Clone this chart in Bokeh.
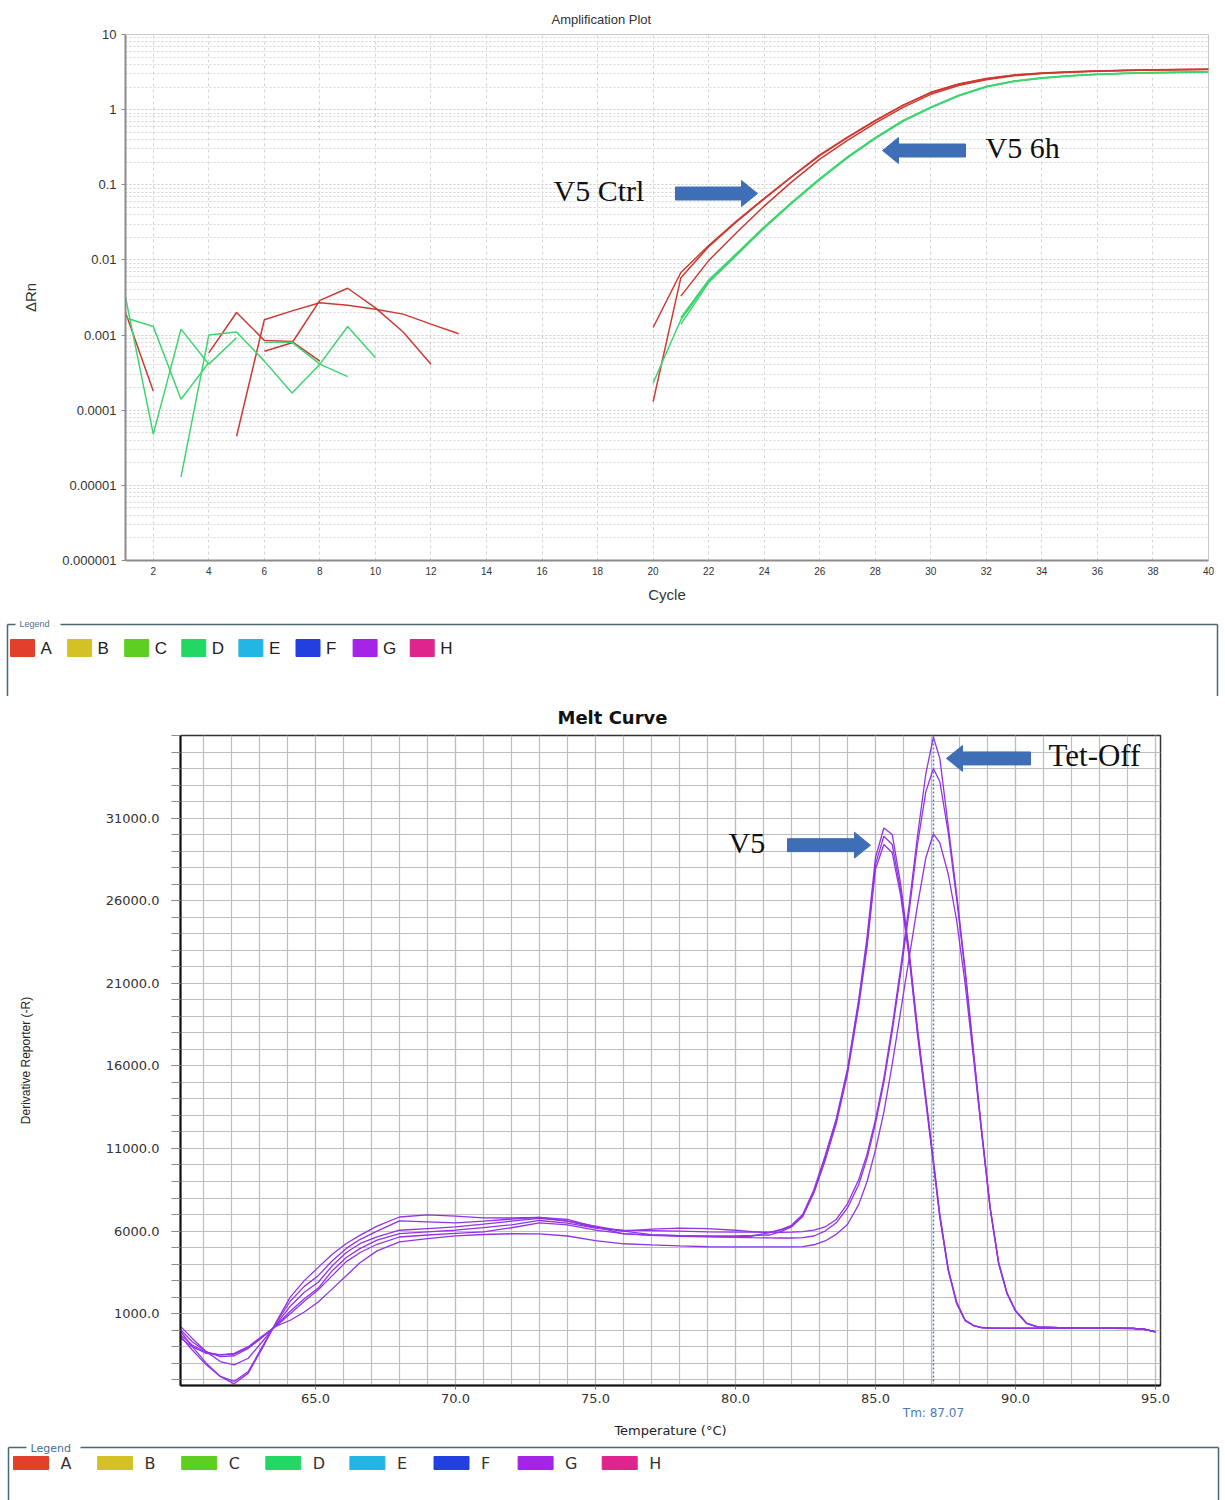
import math
from bokeh.plotting import figure
from bokeh.models import (FixedTicker, CustomJSTickFormatter, PrintfTickFormatter,
                          Span, Range1d, LinearAxis)
from bokeh.core.properties import value
from bokeh.embed import file_html
from bokeh.resources import INLINE

N = None

# ---------------- Amplification plot data (ΔRn per cycle; None = not drawn on log axis) ----
cycles = list(range(1, 41))
red_a = [0.0020, 0.00018, N, 0.00058, 0.0020, 0.00085, 0.00082, 0.00045, N, N,
         N, N, N, N, N, N, N, N, N, 0.00126,
         0.0068, 0.0155, 0.033, 0.066, 0.13, 0.25, 0.43, 0.72, 1.15, 1.70,
         2.20, 2.60, 2.90, 3.08, 3.20, 3.28, 3.34, 3.39, 3.42, 3.45]
red_b = [N, N, N, N, 0.000045, 0.0016, 0.0021, 0.0027, 0.0025, 0.0022,
         0.0019, 0.0014, 0.00104, N, N, N, N, N, N, 0.00013,
         0.0058, 0.0150, 0.032, 0.065, 0.128, 0.245, 0.425, 0.71, 1.14, 1.68,
         2.18, 2.58, 2.88, 3.06, 3.18, 3.27, 3.33, 3.38, 3.41, 3.44]
red_c = [N, N, N, N, N, 0.00061, 0.00079, 0.0029, 0.0042, 0.0023,
         0.0011, 0.00041, N, N, N, N, N, N, N, N,
         0.0033, 0.0098, 0.023, 0.052, 0.11, 0.22, 0.39, 0.66, 1.07, 1.60,
         2.10, 2.50, 2.82, 3.02, 3.15, 3.25, 3.31, 3.36, 3.40, 3.43]
green_a = [0.0032, 0.000048, 0.0012, 0.00041, 0.00092, N, N, N, N, N,
           N, N, N, N, N, N, N, N, N, 0.00023,
           0.0016, 0.0052, 0.0119, 0.027, 0.058, 0.119, 0.232, 0.42, 0.71, 1.07,
           1.54, 2.03, 2.39, 2.64, 2.82, 2.95, 3.04, 3.10, 3.15, 3.19]
green_b = [0.0017, 0.0013, 0.00014, 0.00043, N, 0.0008, 0.0008, 0.00041, 0.00028, N,
           N, N, N, N, N, N, N, N, N, N,
           0.0014, 0.0050, 0.0115, 0.0265, 0.057, 0.117, 0.228, 0.41, 0.70, 1.06,
           1.52, 2.00, 2.37, 2.62, 2.80, 2.93, 3.02, 3.08, 3.13, 3.17]
green_c = [N, N, 0.000013, 0.0010, 0.0011, 0.00045, 0.00017, 0.00041, 0.0013, 0.0005,
           N, N, N, N, N, N, N, N, N, N,
           0.0017, 0.0054, 0.0122, 0.0275, 0.059, 0.121, 0.235, 0.425, 0.72, 1.08,
           1.55, 2.04, 2.40, 2.65, 2.83, 2.96, 3.05, 3.11, 3.16, 3.20]
red_wells = [red_a, red_b, red_c]
green_wells = [green_a, green_b, green_c]

cycle_ticks = list(range(2, 41, 2))
drn_decades = [1e-6, 1e-5, 1e-4, 1e-3, 1e-2, 1e-1, 1, 10]

# ---------------- Melt curve data (derivative reporter -R) ----------------
temp_c = [60.2, 60.6, 61.1, 61.6, 62.1, 62.6, 63.1, 63.6, 64.1, 64.6, 65.1, 65.6, 66.1, 66.6, 67.2,
          68, 69, 70, 71, 72, 73, 74, 75, 76, 77, 78, 79, 80,
          80.6, 81.2, 81.6, 82.0, 82.4, 82.8, 83.2, 83.6, 84.0, 84.4, 84.7, 85.0, 85.3, 85.6, 85.9,
          86.2, 86.5, 86.8, 87.07, 87.3, 87.6, 87.9, 88.2, 88.5, 88.8, 89.1, 89.4, 89.7, 90.0,
          90.4, 90.8, 91.5, 92.5, 93.5, 94.2, 94.6, 95.0]
v5_a = [-100, -1000, -2000, -2800, -3250, -2600, -1100, 500, 2000, 3000, 3800, 4600, 5250, 5750, 6300,
        6850, 6980, 6900, 6800, 6790, 6830, 6600, 6200, 5990, 6120, 6180, 6150, 6050,
        5960, 5900, 6080, 6350, 7000, 8500, 10550, 12800, 15800, 20000, 23800, 28600, 30400, 30000, 27000,
        23000, 18300, 14100, 10300, 7000, 3700, 1700, 620, 290, 160, 130, 120, 120, 120,
        120, 120, 120, 120, 115, 110, 60, -100]
v5_b = [-400, -1200, -2100, -2800, -3100, -2500, -1000, 450, 1750, 2650, 3300, 4200, 4950, 5500, 6000,
        6620, 6560, 6500, 6600, 6720, 6830, 6700, 6250, 5830, 5760, 5720, 5700, 5710,
        5730, 5760, 5950, 6250, 6880, 8350, 10400, 12700, 15700, 19850, 23500, 28200, 29900, 29400, 26600,
        22800, 18100, 13950, 10150, 6900, 3650, 1650, 600, 280, 150, 125, 120, 115, 115,
        115, 115, 115, 115, 110, 105, 55, -100]
v5_c = [200, -500, -1300, -1900, -2100, -1700, -700, 350, 1450, 2300, 2900, 3900, 4700, 5250, 5650,
        6050, 6150, 6250, 6420, 6600, 6770, 6600, 6300, 5990, 5780, 5720, 5680, 5650,
        5700, 5900, 6050, 6300, 6900, 8300, 10250, 12500, 15500, 19600, 23200, 27900, 29400, 28900, 26300,
        22600, 17900, 13800, 10050, 6800, 3600, 1600, 580, 270, 145, 120, 115, 110, 110,
        110, 110, 110, 110, 105, 100, 50, -90]
tet_a = [0, -700, -1300, -1600, -1550, -1100, -450, 300, 1150, 1900, 2550, 3600, 4400, 4950, 5450,
         5840, 5950, 6050, 6210, 6380, 6640, 6480, 6180, 6060, 6030, 5990, 5950, 5940,
         5940, 5930, 5920, 5930, 5960, 6050, 6250, 6700, 7650, 9100, 10650, 12750, 15250, 18400, 21950,
         25700, 29900, 33700, 35900, 34600, 30500, 26400, 21900, 16900, 12000, 7400, 4100, 2250, 1200,
         420, 200, 160, 130, 120, 110, 60, -110]
tet_b = [-300, -900, -1350, -1500, -1450, -1050, -400, 250, 1000, 1750, 2450, 3300, 4150, 4700, 5200,
         5640, 5760, 5860, 5950, 6200, 6500, 6380, 6050, 5850, 5740, 5680, 5650, 5620,
         5600, 5590, 5580, 5580, 5600, 5700, 6000, 6500, 7400, 8800, 10400, 12500, 15000, 18100, 21600,
         25300, 29400, 32600, 34000, 33200, 30100, 26100, 21700, 16800, 11900, 7350, 4050, 2230, 1180,
         410, 195, 155, 125, 115, 105, 55, -100]
tet_c = [-500, -1000, -1400, -1500, -1400, -1000, -350, 250, 600, 1100, 1700, 2500, 3300, 4100, 4800,
         5340, 5540, 5710, 5790, 5840, 5830, 5700, 5420, 5230, 5160, 5100, 5050, 5040,
         5040, 5040, 5040, 5040, 5060, 5170, 5400, 5800, 6400, 7600, 9000, 10900, 13200, 16100, 19300,
         22500, 25700, 28600, 30050, 29500, 27600, 24800, 21000, 16500, 11800, 7300, 4000, 2200, 1150,
         400, 190, 150, 120, 110, 100, 50, -100]
melt_wells = [v5_a, v5_b, v5_c, tet_a, tet_b, tet_c]
tm_value = 87.07
temp_major = [65, 70, 75, 80, 85, 90, 95]
temp_minor = list(range(61, 96))
deriv_major = [1000, 6000, 11000, 16000, 21000, 26000, 31000]
deriv_minor = list(range(-3000, 36001, 1000))

legend_labels = ["A", "B", "C", "D", "E", "F", "G", "H"]
legend_colors = ["#e2402a", "#d4c224", "#5ccf22", "#22d764", "#22b6e2", "#2240df", "#a424e6", "#e0248e"]

RED = "#cc3a32"
GREEN = "#3ed46f"
PURPLE = "#9233e4"
ARROW = "#3e6fb6"

W = 1225

# ================= Amplification plot =================
A_H = 610
A_L, A_R, A_T, A_B = 125, 17, 34, 50
A_X = (1, 40)
A_Y = (1e-6, 10)
p1 = figure(width=W, height=A_H, x_range=Range1d(*A_X), y_range=Range1d(*A_Y),
            y_axis_type="log", output_backend="svg", toolbar_location=None,
            min_border_left=A_L, min_border_right=A_R, min_border_top=A_T, min_border_bottom=A_B)
p1.title.text = "Amplification Plot"
p1.title.align = "left"
p1.title.offset = 426
p1.title.standoff = 15
p1.title.text_font = "Liberation Sans"
p1.title.text_font_size = "13px"
p1.title.text_font_style = "normal"
p1.title.text_color = "#333333"
p1.outline_line_color = "#c8c8c8"

p1.xaxis.ticker = FixedTicker(ticks=cycle_ticks)
p1.yaxis.ticker = FixedTicker(ticks=drn_decades,
                              minor_ticks=[m * d for d in drn_decades[:-1] for m in range(2, 10)])
p1.yaxis.formatter = CustomJSTickFormatter(
    code="const e = Math.round(Math.log10(tick)); return e >= 0 ? Math.round(tick).toString() : tick.toFixed(-e);")
for ax in (p1.xaxis, p1.yaxis):
    ax.axis_line_color = "#8c8c8c"
    ax.axis_line_width = 2
    ax.minor_tick_line_color = None
    ax.minor_tick_out = 0
    ax.major_label_text_color = "#333333"
    ax.axis_label_text_font_style = "normal"
    ax.axis_label_text_color = "#333333"
    ax.axis_label_text_font_size = "15px"
    ax.axis_label_text_font = "Liberation Sans"
p1.xaxis.major_tick_line_color = None
p1.xaxis.major_tick_out = 0
p1.xaxis.major_tick_in = 0
p1.xaxis.major_label_text_font = "Liberation Sans"
p1.xaxis.major_label_text_font_size = "10px"
p1.xaxis.major_label_standoff = 6
p1.xaxis.axis_label = "Cycle"
p1.xaxis.axis_label_standoff = 8
p1.yaxis.major_tick_out = 4
p1.yaxis.major_tick_in = 0
p1.yaxis.major_tick_line_color = "#8c8c8c"
p1.yaxis.major_label_text_font = "Liberation Sans"
p1.yaxis.major_label_text_font_size = "13px"
p1.yaxis.major_label_standoff = 5
p1.yaxis.axis_label = "ΔRn"
p1.yaxis.axis_label_standoff = 20

p1.xgrid.grid_line_color = "#d4d4d4"
p1.xgrid.grid_line_dash = "3 3"
p1.ygrid.grid_line_color = "#cccccc"
p1.ygrid.grid_line_dash = "2 2"
p1.ygrid.minor_grid_line_color = "#d6d6d6"
p1.ygrid.minor_grid_line_dash = "2 2"


def nanify(vals):
    return [float("nan") if v is None else v for v in vals]


for well in red_wells:
    p1.line(cycles, nanify(well), line_color=RED, line_width=1.5)
for well in green_wells:
    p1.line(cycles, nanify(well), line_color=GREEN, line_width=1.5)


def amp_px(xp, yp):
    fw = W - A_L - A_R
    fh = A_H - A_T - A_B
    c = A_X[0] + (xp - A_L) / fw * (A_X[1] - A_X[0])
    ly1, ly0 = math.log10(A_Y[1]), math.log10(A_Y[0])
    lv = ly1 - (yp - A_T) / fh * (ly1 - ly0)
    return c, 10 ** lv


def arrow_pts(tail_x, tip_x, y, sh=6.5, hh=13, hl=16):
    d = 1 if tip_x > tail_x else -1
    bx = tip_x - d * hl
    return [(tail_x, y - sh), (bx, y - sh), (bx, y - hh), (tip_x, y), (bx, y + hh), (bx, y + sh), (tail_x, y + sh)]


# annotations (page pixel positions of the arrows and labels)
amp_arrows = [(675, 757, 193), (965, 882, 150)]
amp_texts = [("V5 Ctrl", 553, 190, "30px"), ("V5 6h", 985, 147, "30px")]
for tx0, tx1, ty in amp_arrows:
    pts = [amp_px(a, b) for a, b in arrow_pts(tx0, tx1, ty)]
    p1.patch([q[0] for q in pts], [q[1] for q in pts], fill_color=ARROW, line_color=ARROW, line_width=1)
for txt, xp, yp, fs in amp_texts:
    cx, cy = amp_px(xp, yp)
    p1.text(x=[cx], y=[cy], text=[txt], text_font=value("Liberation Serif"), text_font_size=fs,
            text_baseline="middle", text_align="left", text_color="#111111")

# ================= Legend panel 1 =================
L1_TOP, L1_H = A_H, 86
g1 = figure(width=W, height=L1_H, x_range=Range1d(0, W), y_range=Range1d(L1_TOP + L1_H, L1_TOP),
            x_axis_type=None, y_axis_type=None, min_border=0, toolbar_location=None,
            output_backend="svg", outline_line_color=None)
g1.grid.visible = False
g1.segment(x0=[7, 60, 7, 1217], y0=[624, 624, 624, 624], x1=[15, 1217, 7, 1217], y1=[624, 624, 704, 704],
           line_color="#4b6573", line_width=1.5)
g1.text(x=[19], y=[623], text=["Legend"], text_font=value("Liberation Sans"), text_font_size="9px",
        text_baseline="middle", text_color="#4d6f91")
l1_left = [10 + i * 57.1 for i in range(len(legend_labels))]
g1.quad(left=l1_left, right=[x + 24 for x in l1_left], top=[639] * 8, bottom=[656] * 8,
        fill_color=legend_colors, line_color=legend_colors)
g1.text(x=[x + 30 for x in l1_left], y=[648] * 8, text=legend_labels, text_font=value("Liberation Sans"),
        text_font_size="17px", text_baseline="middle", text_color="#222222")

# ================= Melt curve =================
M_TOP = L1_TOP + L1_H
M_L, M_R, M_T, M_B = 180, 65, 39, 53
M_FH = 652
M_H = M_T + M_FH + M_B
M_X = (60.18, 95.18)
M_Y = (-3350, 36000)
p2 = figure(width=W, height=M_H, x_range=Range1d(*M_X), y_range=Range1d(*M_Y),
            output_backend="svg", toolbar_location=None,
            min_border_left=M_L, min_border_right=M_R, min_border_top=M_T, min_border_bottom=M_B)
p2.title.text = "Melt Curve"
p2.title.align = "left"
p2.title.offset = 377
p2.title.standoff = 16
p2.title.text_font = "DejaVu Sans"
p2.title.text_font_size = "18px"
p2.title.text_font_style = "bold"
p2.title.text_color = "#111111"
p2.outline_line_color = "#333333"
p2.outline_line_width = 1.5

p2.xaxis.ticker = FixedTicker(ticks=temp_major, minor_ticks=temp_minor)
p2.yaxis.ticker = FixedTicker(ticks=deriv_major, minor_ticks=deriv_minor)
for ax in (p2.xaxis, p2.yaxis):
    ax.formatter = PrintfTickFormatter(format="%.1f")
    ax.axis_line_color = "#111111"
    ax.axis_line_width = 2
    ax.major_label_text_font = "DejaVu Sans"
    ax.major_label_text_font_size = "13px"
    ax.major_label_text_color = "#333333"
    ax.axis_label_text_font_style = "normal"
    ax.axis_label_text_color = "#222222"
p2.xaxis.major_tick_out = 4
p2.xaxis.major_tick_in = 0
p2.xaxis.minor_tick_out = 0
p2.xaxis.minor_tick_in = 0
p2.xaxis.major_tick_line_color = "#777777"
p2.xaxis.major_label_standoff = 4
p2.yaxis.major_tick_out = 9
p2.yaxis.minor_tick_out = 9
p2.yaxis.major_tick_in = 0
p2.yaxis.minor_tick_in = 0
p2.yaxis.major_tick_line_color = "#8a8a8a"
p2.yaxis.minor_tick_line_color = "#8a8a8a"
p2.yaxis.major_label_standoff = 12
p2.yaxis.axis_label = "Derivative Reporter (-R)"
p2.yaxis.axis_label_text_font = "Liberation Sans"
p2.yaxis.axis_label_text_font_size = "12px"
p2.yaxis.axis_label_standoff = 70

# second bottom axis: carries the Tm marker label and the axis title
tm_axis = LinearAxis(ticker=FixedTicker(ticks=[tm_value]),
                     major_label_overrides={tm_value: "Tm: %.2f" % tm_value},
                     axis_line_color=None, major_tick_line_color=None, minor_tick_line_color=None,
                     major_tick_out=0, major_tick_in=0, minor_tick_out=0, minor_tick_in=0,
                     major_label_standoff=0,
                     major_label_text_font="DejaVu Sans", major_label_text_font_size="12px",
                     major_label_text_color="#4a7bb7",
                     axis_label="Temperature (°C)", axis_label_text_font="DejaVu Sans",
                     axis_label_text_font_size="13px", axis_label_text_font_style="normal",
                     axis_label_text_color="#222222", axis_label_standoff=0)
p2.add_layout(tm_axis, "below")

for g in (p2.xgrid, p2.ygrid):
    g.grid_line_color = "#bdbdbd"
    g.minor_grid_line_color = "#bdbdbd"
    g.grid_line_width = 1.2
    g.minor_grid_line_width = 1.2

p2.add_layout(Span(location=tm_value, dimension="height", line_color="#4f7fb5", line_dash="2 2",
                   line_width=1.5))

for well in melt_wells:
    p2.line(temp_c, well, line_color=PURPLE, line_width=1.3)


def melt_px(xp, yp):
    fw = W - M_L - M_R
    t = M_X[0] + (xp - M_L) / fw * (M_X[1] - M_X[0])
    v = M_Y[1] - (yp - M_TOP - M_T) / M_FH * (M_Y[1] - M_Y[0])
    return t, v


melt_arrows = [(787, 870, 845), (1030, 946, 758)]
melt_texts = [("V5", 728, 842, "30px"), ("Tet-Off", 1048, 755, "31px")]
for tx0, tx1, ty in melt_arrows:
    pts = [melt_px(a, b) for a, b in arrow_pts(tx0, tx1, ty)]
    p2.patch([q[0] for q in pts], [q[1] for q in pts], fill_color=ARROW, line_color=ARROW, line_width=1)
for txt, xp, yp, fs in melt_texts:
    cx, cy = melt_px(xp, yp)
    p2.text(x=[cx], y=[cy], text=[txt], text_font=value("Liberation Serif"), text_font_size=fs,
            text_baseline="middle", text_align="left", text_color="#111111")

# ================= Legend panel 2 =================
L2_TOP = M_TOP + M_H
L2_H = 1500 - L2_TOP
g2 = figure(width=W, height=L2_H, x_range=Range1d(0, W), y_range=Range1d(L2_TOP + L2_H, L2_TOP),
            x_axis_type=None, y_axis_type=None, min_border=0, toolbar_location=None,
            output_backend="svg", outline_line_color=None)
g2.grid.visible = False
g2.segment(x0=[8, 80, 8, 1218], y0=[1447, 1447, 1447, 1447], x1=[26, 1218, 8, 1218], y1=[1447, 1447, 1501, 1501],
           line_color="#4a6878", line_width=1.5)
g2.text(x=[30], y=[1448], text=["Legend"], text_font=value("DejaVu Sans"), text_font_size="11px",
        text_baseline="middle", text_color="#3f6f95")
l2_left = [13 + i * 84.1 for i in range(len(legend_labels))]
g2.quad(left=l2_left, right=[x + 35 for x in l2_left], top=[1456] * 8, bottom=[1469] * 8,
        fill_color=legend_colors, line_color=legend_colors)
g2.text(x=[x + 47 for x in l2_left], y=[1463] * 8, text=legend_labels, text_font=value("DejaVu Sans"),
        text_font_size="16px", text_baseline="middle", text_color="#333333")

# separate roots stacked vertically (keeps each panel's own frame position)
open("out.html", "w").write(file_html([p1, g1, p2, g2], INLINE))
